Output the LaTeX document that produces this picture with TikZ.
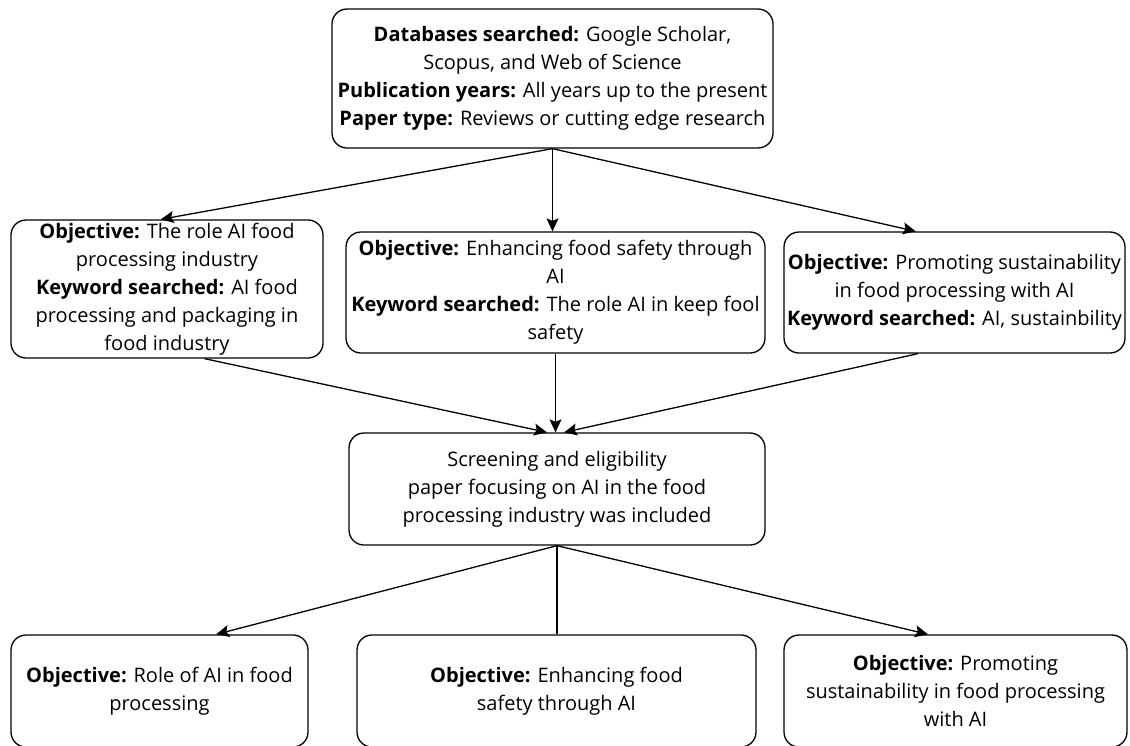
\documentclass[tikz,border=0pt]{standalone}
\usepackage{fontspec}
\IfFontExistsTF{NotoSans-Bold.ttf}
 {\setmainfont{NotoSans}[Extension=.ttf,UprightFont=*-Regular,BoldFont=*-Bold]}
 {\IfFontExistsTF{Open Sans Bold}
   {\setmainfont{Open Sans}[BoldFont={Open Sans Bold}]}
   {\setmainfont{Noto Sans}[BoldFont={Noto Sans},BoldFeatures={FakeBold=2.5}]}}
\usetikzlibrary{arrows.meta,calc}
\begin{document}
\begin{tikzpicture}[x=1pt,y=-1pt,
  box/.style={draw=black,line width=1.3pt,rounded corners=15pt,align=center,
    inner sep=0pt,font=\fontsize{20}{28}\selectfont},
  conn/.style={line width=1.3pt,draw=black},
  arr/.style={conn,-{Stealth[length=13pt,width=12pt,inset=2.5pt]}}]
\useasboundingbox (0,0) rectangle (1130,745);
\clip (0,0) rectangle (1130,745);
\fill[white] (0,0) rectangle (1130,745);

\node[box,minimum width=441pt,minimum height=139pt] (top) at (552.5,78.5)
 {\textbf{Databases searched:} Google Scholar,\\ Scopus, and Web of Science\\
  \textbf{Publication years:} All years up to the present\\
  \textbf{Paper type:} Reviews or cutting edge research};

\node[box,minimum width=312pt,minimum height=138pt] (L) at (167,289)
 {\textbf{Objective:} The role AI food\\ processing industry\\
  \textbf{Keyword searched:} AI food\\ processing and packaging in\\ food industry};

\node[box,minimum width=419pt,minimum height=121pt] (C) at (555.5,292.5)
 {\textbf{Objective:} Enhancing food safety through\\ AI\\
  \textbf{Keyword searched:} The role AI in keep fool\\ safety};

\node[box,minimum width=341pt,minimum height=121pt] (R) at (954.5,292.5)
 {\textbf{Objective:} Promoting sustainability\\ in food processing with AI\\
  \textbf{Keyword searched:} AI, sustainbility};

\node[box,minimum width=416pt,minimum height=112pt] (S) at (557,489)
 {Screening and eligibility\\ paper focusing on AI in the food\\ processing industry was included};

\node[box,minimum width=297pt,minimum height=112pt] (B1) at (159.5,691)
 {\textbf{Objective:} Role of AI in food\\ processing};

\node[box,minimum width=399pt,minimum height=112pt] (B2) at (556.5,691)
 {\textbf{Objective:} Enhancing food\\ safety through AI};

\node[box,minimum width=343pt,minimum height=112pt] (B3) at (955.5,691)
 {\textbf{Objective:} Promoting\\ sustainability in food processing\\ with AI};

% top to objectives
\draw[arr] (top.south) -- ($(L.north west)!0.48!(L.north east)$);
\draw[arr] (top.south) -- (top.south |- C.north);
\draw[arr] (top.south) -- ($(R.north west)!0.387!(R.north east)$);

% objectives to screening
\draw[arr] ($(L.south west)!0.62!(L.south east)$) -- ($(S.north west)!0.476!(S.north east)$);
\draw[arr] (C.south) -- (C.south |- S.north);
\draw[arr] ($(R.south west)!0.393!(R.south east)$) -- ($(S.north west)!0.517!(S.north east)$);

% screening to outcomes
\draw[arr] (S.south) -- ($(B1.north west)!0.69!(B1.north east)$);
\draw[conn] (S.south) -- (S.south |- B2.north);
\draw[arr] (S.south) -- ($(B3.north west)!0.42!(B3.north east)$);
\end{tikzpicture}
\end{document}
